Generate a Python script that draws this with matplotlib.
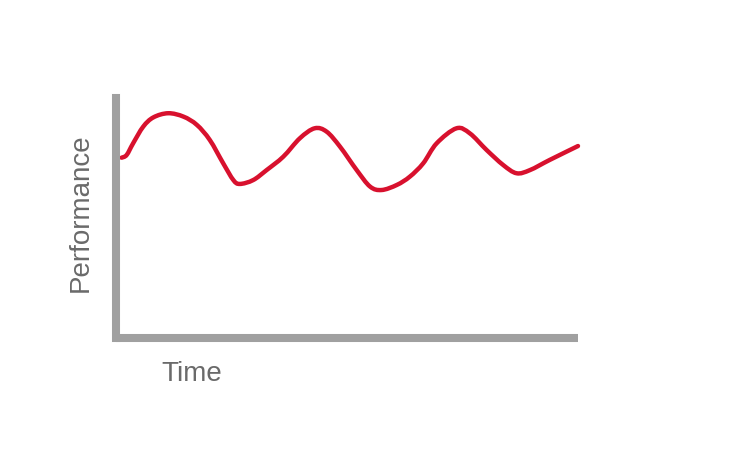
import matplotlib
matplotlib.use("Agg")
import matplotlib.pyplot as plt
import numpy as np
from matplotlib.path import Path
from matplotlib.patches import PathPatch

time = [1.2, 2.3, 3.7, 5.9, 8.1, 11.3, 14.6, 17.5, 20.3, 23.2, 25.4, 26.8, 29.7,
        32.6, 36.2, 39.8, 43.0, 45.6, 48.5, 52.1, 55.0, 57.5, 60.8, 63.6, 66.5,
        69.4, 73.7, 76.6, 80.2, 83.8, 86.7, 89.6, 93.9, 100.0]
performance = [74.2, 75.3, 80.1, 87.0, 90.8, 92.5, 91.1, 87.7, 81.5, 71.9, 65.0,
               63.4, 65.0, 69.1, 74.6, 82.2, 86.3, 84.9, 78.7, 69.1, 62.3, 60.9,
               63.0, 66.4, 71.9, 80.1, 86.3, 84.2, 77.4, 71.2, 67.8, 69.1, 73.3, 79.0]

x_label = "Time"
y_label = "Performance"

plt.rcParams['font.family'] = ['Liberation Sans', 'DejaVu Sans']

fig = plt.figure(figsize=(7.30, 4.76), dpi=100)
ax = fig.add_axes([116/730, (476-338)/476, 462/730, (338-95)/476])
ax.set_xlim(0, 100)
ax.set_ylim(0, 100)

# smooth curve through the read points (Catmull-Rom rendered as Bezier path)
pts = np.column_stack([time, performance])
verts = [pts[0]]
codes = [Path.MOVETO]
n = len(pts)
for i in range(n - 1):
    p0 = pts[i - 1] if i > 0 else pts[i]
    p1 = pts[i]
    p2 = pts[i + 1]
    p3 = pts[i + 2] if i + 2 < n else pts[i + 1]
    c1 = p1 + (p2 - p0) / 6.0
    c2 = p2 - (p3 - p1) / 6.0
    verts += [c1, c2, p2]
    codes += [Path.CURVE4] * 3
patch = PathPatch(Path(verts, codes), facecolor='none', edgecolor='#d8112e',
                  linewidth=3.2, joinstyle='round', capstyle='round',
                  clip_on=False)
ax.add_patch(patch)

for s in ['top', 'right']:
    ax.spines[s].set_visible(False)
for s in ['left', 'bottom']:
    ax.spines[s].set_color('#a0a0a0')
    ax.spines[s].set_linewidth(5.8)
ax.spines['left'].set_capstyle('projecting')
ax.spines['left'].set_bounds(0, 98.8)
ax.spines['bottom'].set_capstyle('butt')
ax.set_xticks([])
ax.set_yticks([])

fig.text(81/730, 1 - 213/476, y_label, rotation=90, ha='center', va='center',
         fontsize=20, color='#6a6a6a')
fig.text(192/730, 1 - 374/476, x_label, ha='center', va='center',
         fontsize=20, color='#6a6a6a')

fig.savefig("out.png", dpi=100, facecolor='white')
